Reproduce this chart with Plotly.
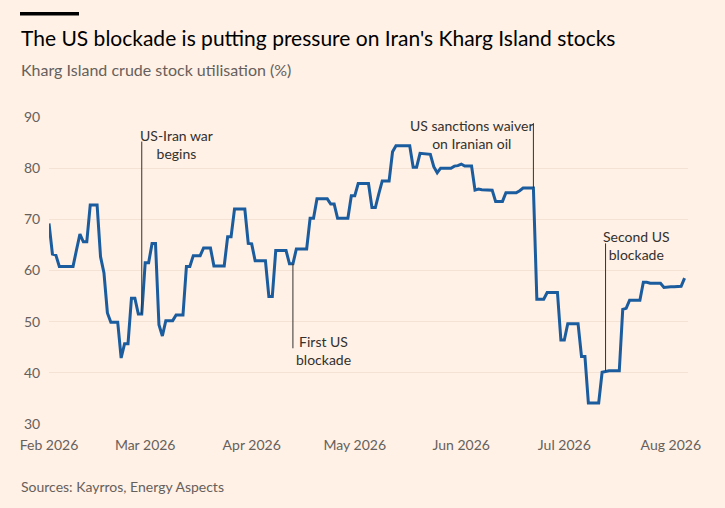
import plotly.graph_objects as go
import pandas as pd

# Kharg Island crude stock utilisation (%), daily from 1 Feb 2026
start_date = "2026-02-01"
utilisation = [
    69.2, 63.2, 63.0, 60.8, 60.8, 60.8, 60.8, 60.8, 64.0, 67.1,   # Feb 1-10
    65.6, 65.6, 72.8, 72.8, 72.8, 62.7, 59.5, 51.7, 49.9, 49.9,   # Feb 11-20
    49.9, 42.9, 45.7, 45.7, 54.6, 54.6, 51.5, 51.5,               # Feb 21-28
    61.5, 61.5, 65.3, 65.3, 49.4, 47.2, 50.2, 50.2, 50.2, 51.3,   # Mar 1-10
    51.3, 51.3, 60.8, 60.8, 62.9, 62.9, 62.9, 64.4, 64.4, 64.4,   # Mar 11-20
    60.9, 60.9, 60.9, 60.9, 66.6, 66.6, 72.0, 72.0, 72.0, 72.0,   # Mar 21-30
    65.3,                                                         # Mar 31
    65.2, 61.9, 61.9, 61.9, 61.9, 54.9, 54.9, 63.9, 63.9, 63.9,   # Apr 1-10
    63.9, 61.3, 61.3, 64.2, 64.2, 64.2, 64.2, 70.2, 70.2, 74.0,   # Apr 11-20
    74.0, 74.0, 74.0, 73.0, 73.0, 70.2, 70.2, 70.2, 70.2, 74.6,   # Apr 21-30
    74.6, 77.0, 77.0, 77.0, 77.0, 72.3, 72.3, 75.0, 77.5, 77.5,   # May 1-10
    77.5, 83.2, 84.4, 84.4, 84.4, 84.4, 84.4, 80.2, 80.2, 82.9,   # May 11-20
    82.8, 82.7, 82.7, 80.3, 79.1, 80.0, 80.0, 80.0, 80.0, 80.4,   # May 21-30
    80.5,                                                         # May 31
    80.8, 80.4, 80.4, 80.4, 75.7, 75.9, 75.8, 75.8, 75.8, 75.7,   # Jun 1-10
    73.5, 73.5, 73.5, 75.2, 75.2, 75.2, 75.2, 75.6, 76.1, 76.1,   # Jun 11-20
    76.1, 76.1, 54.4, 54.4, 54.4, 55.7, 55.7, 55.7, 55.7, 46.4,   # Jun 21-30
    46.4, 49.6, 49.6, 49.6, 49.6, 43.2, 43.2, 34.1, 34.1, 34.1,   # Jul 1-10
    34.1, 40.1, 40.3, 40.4, 40.4, 40.4, 40.4, 52.4, 52.6, 54.2,   # Jul 11-20
    54.2, 54.2, 54.2, 57.7, 57.7, 57.5, 57.5, 57.5, 57.5, 56.7,   # Jul 21-30
    56.8,                                                         # Jul 31
    56.8, 56.8, 56.9, 56.9, 58.5,                                 # Aug 1-5
]
dates = pd.date_range(start_date, periods=len(utilisation), freq="D")

tick_dates = ["2026-02-01", "2026-03-01", "2026-04-01", "2026-05-01",
              "2026-06-01", "2026-07-01", "2026-08-01"]
tick_labels = ["Feb 2026", "Mar 2026", "Apr 2026", "May 2026",
               "Jun 2026", "Jul 2026", "Aug 2026"]

# event markers: date, value at line, top/bottom of leader, label, label pos
events = [
    dict(date="2026-02-28", y0=51.5, y1=85.2,
         text="US-Iran war<br>begins", tx="2026-03-10", ty=84.6),
    dict(date="2026-04-13", y0=61.3, y1=44.8,
         text="First US<br>blockade", tx="2026-04-22", ty=44.4),
    dict(date="2026-06-22", y0=76.1, y1=88.8,
         text="US sanctions waiver<br>on Iranian oil", tx="2026-06-04", ty=86.5),
    dict(date="2026-07-13", y0=40.4, y1=65.3,
         text="Second US<br>blockade", tx="2026-07-22", ty=64.8),
]

BG = "#FFF1E5"
GREY = "#66605C"
INK = "#33302E"
FONT = "Lato"

# plot area in pixels (for placing headline texts in paper coords)
W, H = 725, 508
L, R, T, B = 49, 37, 117, 84
pw, ph = W - L - R, H - T - B


def px(x):
    return (x - L) / pw


def py(y):
    return (H - B - y) / ph


fig = go.Figure()

fig.add_trace(go.Scatter(
    x=dates, y=utilisation, mode="lines",
    line=dict(color="#1A5C9E", width=3),
    showlegend=False,
))

for ev in events:
    fig.add_shape(type="line", xref="x", yref="y",
                  x0=ev["date"], x1=ev["date"], y0=ev["y0"], y1=ev["y1"],
                  line=dict(color=INK, width=1))
    fig.add_annotation(x=ev["tx"], y=ev["ty"], xref="x", yref="y",
                       text=ev["text"], showarrow=False, align="center",
                       xanchor="center", yanchor="middle",
                       font=dict(family=FONT, size=14, color=INK))

# headline, subtitle, source
fig.add_shape(type="rect", xref="paper", yref="paper",
              x0=px(20), x1=px(79), y0=py(15.5), y1=py(12),
              fillcolor="#000000", line_width=0)
fig.add_annotation(xref="paper", yref="paper", x=px(19), y=py(37),
                   text="The US blockade is putting pressure on Iran's Kharg Island stocks",
                   showarrow=False, xanchor="left", yanchor="middle",
                   font=dict(family=FONT, size=21, color="#000000"))
fig.add_annotation(xref="paper", yref="paper", x=px(19), y=py(70),
                   text="Kharg Island crude stock utilisation (%)",
                   showarrow=False, xanchor="left", yanchor="middle",
                   font=dict(family=FONT, size=16, color=GREY))
fig.add_annotation(xref="paper", yref="paper", x=px(19), y=py(486),
                   text="Sources: Kayrros, Energy Aspects",
                   showarrow=False, xanchor="left", yanchor="middle",
                   font=dict(family=FONT, size=14, color=GREY))

fig.update_xaxes(
    type="date",
    range=["2026-02-01", "2026-08-06"],
    tickvals=tick_dates, ticktext=tick_labels,
    showgrid=False, zeroline=False, showline=False,
    ticks="outside", ticklen=8, tickcolor=BG,
    tickfont=dict(family=FONT, size=14, color=GREY),
    fixedrange=True,
)
fig.update_yaxes(
    range=[30, 90], dtick=10, tick0=30,
    showgrid=True, gridcolor="#F4E3D4", gridwidth=1,
    zeroline=False, showline=False,
    ticks="outside", ticklen=5, tickcolor=BG,
    tickfont=dict(family=FONT, size=14, color=GREY),
    fixedrange=True,
)

fig.update_layout(
    width=W, height=H,
    margin=dict(l=L, r=R, t=T, b=B),
    paper_bgcolor=BG, plot_bgcolor=BG,
    font=dict(family=FONT, color=GREY),
    showlegend=False,
)

# drop the browser's default page margin so the chart sits at 0,0
fig.write_html("out.html", config={"displayModeBar": False},
               post_script="document.body.style.margin='0';"
                           "document.body.style.background='" + BG + "';")
